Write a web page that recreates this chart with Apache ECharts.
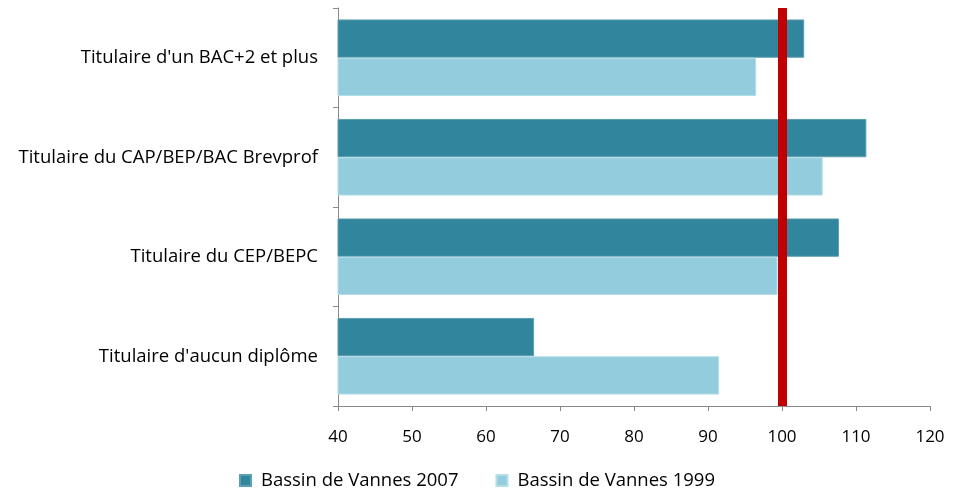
<!DOCTYPE html>
<html>
<head>
<meta charset="utf-8">
<script src="https://cdn.jsdelivr.net/npm/echarts@6/dist/echarts.min.js"></script>
<style>
  html, body { margin: 0; padding: 0; background: #fff; }
  #chart { width: 954px; height: 496px; }
</style>
</head>
<body>
<div id="chart"></div>
<script>
var categories = [
  "Titulaire d'un BAC+2 et plus",
  "Titulaire du CAP/BEP/BAC Brevprof",
  "Titulaire du CEP/BEPC",
  "Titulaire d'aucun diplôme"
];
var values2007 = [103.0, 111.4, 107.7, 66.5];
var values1999 = [96.5, 105.5, 99.4, 91.5];
var refValue = 100;

var fontFam = "'Open Sans', 'Noto Sans', sans-serif";
var axisColor = "#898989";

var myChart = echarts.init(document.getElementById("chart"));
var option = {
  animation: false,
  grid: {
    left: 338,
    right: 24,
    top: 8,
    bottom: 90
  },
  legend: {
    bottom: 1,
    left: "center",
    itemWidth: 11,
    itemHeight: 11,
    itemGap: 37,
    icon: "rect",
    textStyle: {
      fontFamily: fontFam,
      fontSize: 18.5,
      color: "#000",
      padding: [0, 0, 0, 5]
    },
    data: ["Bassin de Vannes 2007", "Bassin de Vannes 1999"]
  },
  xAxis: {
    type: "value",
    min: 40,
    max: 120,
    interval: 10,
    splitLine: { show: false },
    axisLine: { show: true, lineStyle: { color: axisColor, width: 1 } },
    axisTick: { show: true, length: 5, lineStyle: { color: axisColor } },
    axisLabel: {
      fontFamily: fontFam,
      fontSize: 17,
      color: "#000",
      margin: 23
    }
  },
  yAxis: {
    type: "category",
    inverse: true,
    data: categories,
    axisLine: { show: true, lineStyle: { color: axisColor, width: 1 } },
    axisTick: { show: true, length: 5, lineStyle: { color: axisColor } },
    axisLabel: {
      fontFamily: fontFam,
      fontSize: 18.5,
      color: "#000",
      margin: 20
    }
  },
  series: [
    {
      name: "Bassin de Vannes 2007",
      type: "bar",
      data: values2007,
      barGap: "0%",
      barCategoryGap: "23%",
      itemStyle: { color: "#31859C", borderColor: "#5c9fb2", borderWidth: 1 },
      markLine: {
        silent: true,
        symbol: "none",
        label: { show: false },
        lineStyle: { color: "#C00000", width: 9, type: "solid" },
        data: [{ xAxis: refValue }]
      },
      z: 2
    },
    {
      name: "Bassin de Vannes 1999",
      type: "bar",
      data: values1999,
      itemStyle: { color: "#93CDDD", borderColor: "#b4dde8", borderWidth: 1 },
      z: 2
    }
  ]
};
myChart.setOption(option);
window.addEventListener("resize", function () {
  myChart.resize();
});
</script>
</body>
</html>
